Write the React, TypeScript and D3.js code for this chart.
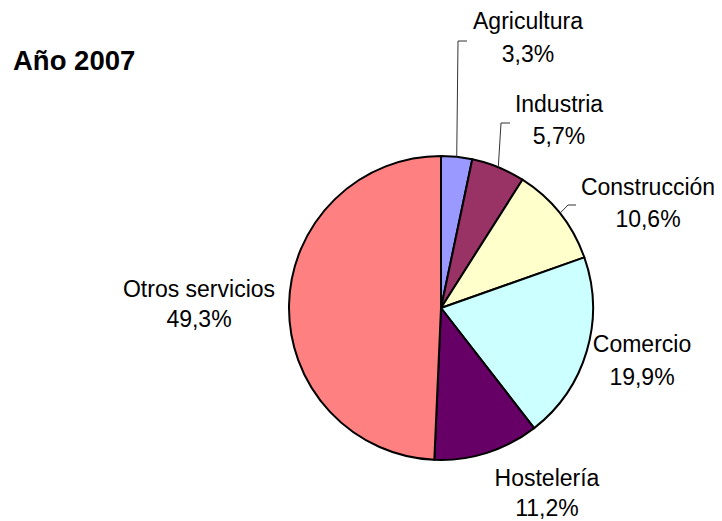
import React from "react";
import * as d3 from "d3";

const categories = ["Agricultura", "Industria", "Construcción", "Comercio", "Hostelería", "Otros servicios"];
const values = [3.3, 5.7, 10.6, 19.9, 11.2, 49.3];
const valueLabels = ["3,3%", "5,7%", "10,6%", "19,9%", "11,2%", "49,3%"];
const colors = ["#9999FF", "#993366", "#FFFFCC", "#CCFFFF", "#660066", "#FF8080"];

// label layout: center x, baseline y of first line, line gap, leader elbow (or null)
const labelLayout = [
  { x: 528, y: 29, gap: 33, elbow: [458, 41], end: [467, 41] },
  { x: 559, y: 112, gap: 32, elbow: [501, 123], end: [510, 123] },
  { x: 648, y: 195, gap: 32, elbow: [568, 205], end: [576, 205] },
  { x: 642, y: 352, gap: 33, elbow: null, end: null },
  { x: 547, y: 486, gap: 30, elbow: null, end: null },
  { x: 199, y: 297, gap: 30, elbow: null, end: null },
];

export default function App() {
  const W = 722, H = 521;
  const cx = 441, cy = 308, r = 152;
  const pie = d3.pie<number>().sort(null).value((d) => d);
  const arcs = pie(values);
  const arc = d3.arc<d3.PieArcDatum<number>>().innerRadius(0).outerRadius(r);
  const font = "'Liberation Sans', Arial, sans-serif";
  return (
    <svg width={W} height={H} style={{ position: "absolute", left: 0, top: 0 }} fontFamily={font}>
      <rect width={W} height={H} fill="#fff" />
      <text x={13} y={70} fontSize={27.5} fontWeight="bold" fill="#000">Año 2007</text>
      <g transform={`translate(${cx},${cy})`}>
        {arcs.map((a, i) => (
          <path key={i} d={arc(a) || ""} fill={colors[i]} stroke="#000" strokeWidth={2} strokeLinejoin="round" />
        ))}
      </g>
      {arcs.map((a, i) => {
        const L = labelLayout[i];
        if (!L.elbow || !L.end) return null;
        const mid = (a.startAngle + a.endAngle) / 2;
        const px = cx + r * Math.sin(mid);
        const py = cy - r * Math.cos(mid);
        return (
          <polyline key={"l" + i} points={`${px},${py} ${L.elbow[0]},${L.elbow[1]} ${L.end[0]},${L.end[1]}`}
            fill="none" stroke="#333" strokeWidth={1} />
        );
      })}
      {categories.map((c, i) => {
        const L = labelLayout[i];
        return (
          <g key={"t" + i} fontSize={23} fill="#000" textAnchor="middle">
            <text x={L.x} y={L.y}>{c}</text>
            <text x={L.x} y={L.y + L.gap}>{valueLabels[i]}</text>
          </g>
        );
      })}
    </svg>
  );
}
